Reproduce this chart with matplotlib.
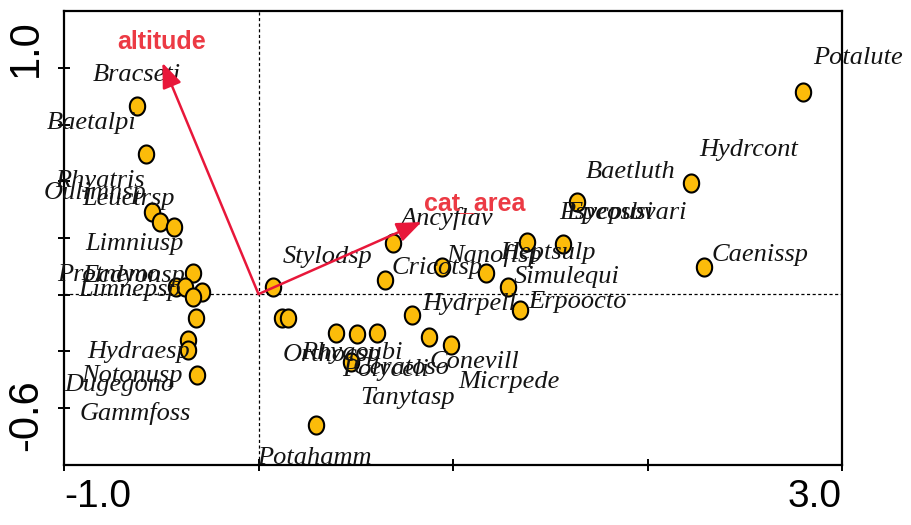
import numpy as np
import matplotlib
matplotlib.use("Agg")
import matplotlib.pyplot as plt
from matplotlib.path import Path
from matplotlib.transforms import ScaledTranslation

# ---- species scores (points) ----
sp_x = [-0.627, -0.576, -0.550, -0.504, -0.432, -0.339, -0.422, -0.380, -0.293,
        -0.339, -0.319, -0.365, -0.365, -0.314,
        0.077, 0.123, 0.154, 0.396, 0.504, 0.607, 0.478, 0.298, 0.694, 0.648,
        0.787, 0.879, 0.992, 0.941, 1.172, 1.285, 1.342, 1.378, 1.568, 1.640,
        2.226, 2.288, 2.802]
sp_y = [0.821, 0.595, 0.322, 0.275, 0.252, 0.035, -0.031, -0.031, -0.054,
        -0.078, -0.176, -0.280, -0.327, -0.445,
        -0.031, -0.176, -0.176, -0.247, -0.252, -0.247, -0.384, -0.680, 0.176, 0.002,
        -0.162, -0.266, -0.304, 0.064, 0.035, -0.031, -0.139, 0.181, 0.172, 0.369,
        0.459, 0.064, 0.887]

# ---- species names and their label positions ----
lab_names = ["Bracseti", "Baetalpi", "Rhyatris", "Oulimnsp", "Leuctrsp", "Limniusp",
             "Protnemo", "Ecdyonsp", "Limnepsp", "Hydraesp", "Notonusp", "Dugegono",
             "Gammfoss", "Stylodsp", "Ancyflav", "Cricotsp", "Nanoflsp", "Heptsulp",
             "Simulequi", "Hydrpell", "Erpoocto", "Psycpusi", "Epeosbvari", "Orthocsp",
             "Rhyaoubi", "Polyceli", "Ceratoso", "Conevill", "Micrpede", "Tanytasp",
             "Potahamm", "Baetluth", "Hydrcont", "Caenissp", "Potalute"]
lab_x = [-0.627, -0.859, -0.817, -0.838, -0.668, -0.638,
         -0.771, -0.643, -0.663, -0.617, -0.653, -0.715,
         -0.632, 0.355, 0.967, 0.920, 1.213, 1.491,
         1.584, 1.085, 1.640, 1.789, 1.892, 0.375,
         0.478, 0.653, 0.735, 1.111, 1.290, 0.766,
         0.288, 1.913, 2.519, 2.581, 3.080]
lab_y = [0.967, 0.741, 0.468, 0.412, 0.384, 0.172,
         0.026, 0.021, -0.045, -0.336, -0.449, -0.492,
         -0.624, 0.111, 0.294, 0.059, 0.120, 0.129,
         0.016, -0.111, -0.101, 0.318, 0.318, -0.351,
         -0.341, -0.421, -0.412, -0.384, -0.478, -0.553,
         -0.835, 0.511, 0.614, 0.120, 1.047]

# ---- environmental vectors ----
origin = (0.0, -0.064)
env_names = ["altitude", "cat_area"]
env_x = [-0.494, 0.838]
env_y = [1.024, 0.275]
env_lab_x = [-0.499, 1.111]
env_lab_y = [1.122, 0.365]

# ---- axis ticks ----
x_ticks = [-1.0, 0.0, 1.0, 2.0, 3.0]
x_ticklabels = ["-1.0", "", "", "", "3.0"]
y_ticks = list(np.linspace(-0.6, 1.0, 7))
y_ticklabels = ["-0.6", "", "", "", "", "", "1.0"]

fig = plt.figure(figsize=(9.11, 5.25), dpi=100)
ax = fig.add_axes([64 / 911, 1 - 465 / 525, 778 / 911, 454 / 525])
ax.set_xlim(-1.0, 3.0)
ax.set_ylim(-0.868, 1.268)

# reference lines through the origin
ax.axvline(origin[0], color="black", lw=0.9, ls=(0, (2.5, 2)), zorder=1)
ax.axhline(origin[1], color="black", lw=0.9, ls=(0, (2.5, 2)), zorder=1)

# slightly tall elliptical marker
t = np.linspace(0, 2 * np.pi, 60)
ell = Path(np.column_stack([np.cos(t) * 0.85, np.sin(t)]), closed=True)

ax.plot(sp_x, sp_y, ls="none", marker=ell, markersize=13,
        markerfacecolor="#FCBC0A", markeredgecolor="black", markeredgewidth=1.5,
        zorder=3)

serif = ["Liberation Serif", "DejaVu Serif"]
for name, lx, ly in zip(lab_names, lab_x, lab_y):
    ax.text(lx, ly, name, family=serif, style="italic", fontsize=19,
            color="#141414", ha="center", va="center", zorder=4, clip_on=False)

# environmental arrows
for ex, ey, nm, tx, ty in zip(env_x, env_y, env_names, env_lab_x, env_lab_y):
    ax.annotate("", xy=(ex, ey), xytext=origin,
                arrowprops=dict(arrowstyle="-|>,head_length=0.75,head_width=0.3",
                                color="#E8173A", lw=1.8, mutation_scale=20,
                                shrinkA=0, shrinkB=0), zorder=5)
    ax.text(tx, ty, nm, family=["Liberation Sans", "DejaVu Sans"], fontweight="bold",
            fontsize=18, color="#EC3A44", ha="center", va="center", zorder=6)

# axes styling
for sp in ax.spines.values():
    sp.set_linewidth(1.6)
ax.set_xticks(x_ticks)
ax.set_xticklabels(x_ticklabels)
ax.set_yticks(y_ticks)
ax.set_yticklabels(y_ticklabels)
ax.tick_params(axis="both", direction="inout", length=8, width=1.4)
ax.tick_params(axis="x", pad=6)
ax.tick_params(axis="y", pad=9, labelrotation=90)

for lbl in ax.get_xticklabels():
    lbl.set_family(["Liberation Sans", "DejaVu Sans"])
    lbl.set_fontsize(28)
for lbl in ax.get_yticklabels():
    lbl.set_family(["Liberation Sans", "DejaVu Sans"])
    lbl.set_fontsize(30)
    lbl.set_va("center")

xl = ax.get_xticklabels()
xl[0].set_ha("left")
xl[-1].set_ha("right")
yl = ax.get_yticklabels()
yl[-1].set_transform(yl[-1].get_transform() + ScaledTranslation(0, 0.20, fig.dpi_scale_trans))
yl[0].set_transform(yl[0].get_transform() + ScaledTranslation(0, -0.07, fig.dpi_scale_trans))

fig.savefig("out.png", dpi=100)
